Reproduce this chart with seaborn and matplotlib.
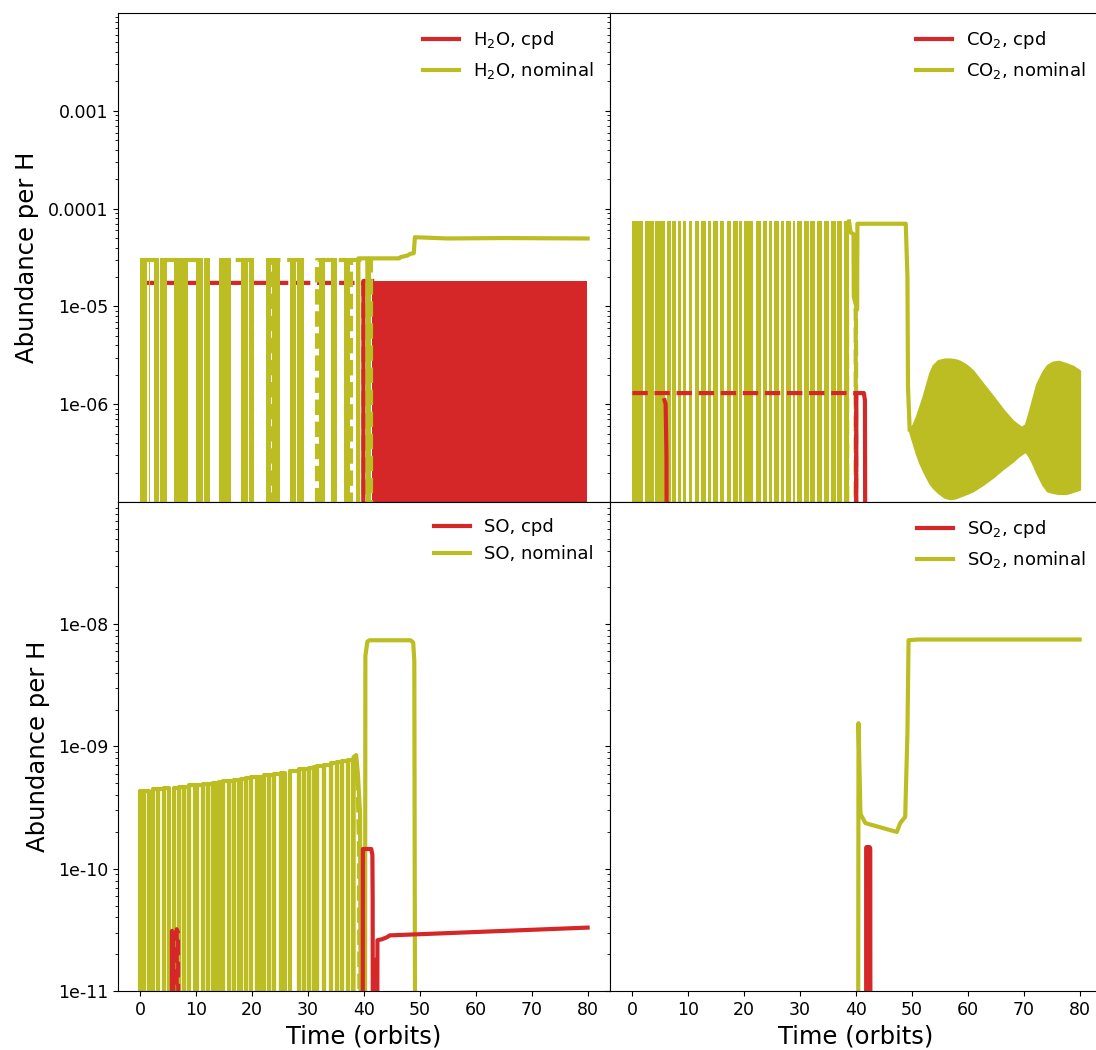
import numpy as np
import matplotlib
matplotlib.use("Agg")
import matplotlib.pyplot as plt
import seaborn as sns
from matplotlib.ticker import FixedLocator, LogLocator, FuncFormatter, NullFormatter
from matplotlib.lines import Line2D

RED = "#d62728"
OLIVE = "#bcbd22"
TOP_FLOOR = 1e-9      # values below the visible range (top row)
BOT_FLOOR = 1e-13     # values below the visible range (bottom row)

# ---------------- H2O ----------------
h2o_band_start = [0.0, 1.5, 2.4, 3.5, 6.1, 7.3, 10.0, 11.3, 14.0, 15.4, 18.0, 19.4, 22.4, 23.5, 26.7, 28.0, 31.9, 34.1, 36.4, 38.5]
h2o_band_end = [1.1, 1.8, 3.4, 4.8, 7.2, 8.6, 11.2, 12.4, 15.3, 16.3, 19.3, 20.4, 23.4, 25.0, 27.9, 29.2, 33.0, 35.2, 37.5, 38.8]
h2o_band_top = 3.1e-5
h2o_nom_t = [38.9, 39.0, 40.6, 40.65, 40.85, 40.9, 46.3, 46.6, 47.7, 48.3, 48.9, 49.1, 55.0, 65.0, 80.0]
h2o_nom_v = [TOP_FLOOR, 3.1e-5, 3.1e-5, TOP_FLOOR, TOP_FLOOR, 3.1e-5, 3.1e-5, 3.2e-5, 3.3e-5, 3.45e-5, 3.5e-5, 5.1e-5, 4.95e-5, 5.0e-5, 4.95e-5]
h2o_nom_dash_t = [0.0, 12.0, 12.0, 15.5, 15.5, 20.0, 20.0, 23.2, 23.2, 28.6, 28.6, 31.6, 31.6, 37.0, 37.0, 37.6, 37.6, 41.2, 41.2]
h2o_nom_dash_v = [3.0e-5, 3.0e-5, TOP_FLOOR, TOP_FLOOR, 3.0e-5, 3.0e-5, TOP_FLOOR, TOP_FLOOR, 3.0e-5, 3.0e-5, TOP_FLOOR, TOP_FLOOR, 3.0e-5, 3.0e-5, TOP_FLOOR, TOP_FLOOR, 3.0e-5, 3.0e-5, TOP_FLOOR]
h2o_cpd_t = [0.0, 39.85, 39.9, 41.45]
h2o_cpd_v = [TOP_FLOOR, TOP_FLOOR, 1.82e-5, 1.82e-5]
h2o_cpd_block_t = [41.4, 79.95]
h2o_cpd_block_hi = [1.84e-5, 1.84e-5]
h2o_cpd_dash_t = [0.0, 39.9, 40.0]
h2o_cpd_dash_v = [1.74e-5, 1.74e-5, TOP_FLOOR]

# ---------------- CO2 ----------------
co2_band_start = [0.0, 2.2, 4.05, 6.15, 7.15, 8.15, 9.05, 10.05, 11.15, 12.35, 13.45, 14.45, 15.65, 16.85, 18.05, 19.15, 19.95, 22.05, 23.35, 24.45, 25.35, 26.55, 27.45, 28.65, 29.45, 30.65, 31.85, 33.05, 34.25, 35.45, 36.65, 37.85]
co2_band_end = [1.95, 3.95, 5.85, 6.85, 7.85, 8.75, 9.65, 10.75, 11.95, 13.15, 14.05, 15.25, 16.45, 17.65, 18.85, 19.65, 21.55, 23.05, 24.15, 25.05, 26.25, 27.15, 28.35, 29.15, 30.35, 31.55, 32.75, 33.95, 35.15, 36.35, 37.55, 38.75]
co2_band_top = 7.4e-5
co2_nom_t = [38.75, 39.05, 39.55, 39.6, 40.2, 40.25, 48.9, 49.2, 49.3, 49.6]
co2_nom_v = [7.4e-5, 5.7e-5, 5.5e-5, 1.25e-5, 9.3e-6, 7.0e-5, 7.0e-5, 2.0e-5, 1.5e-6, 5.5e-7]
co2_env_t = [49.6, 50.2, 50.8, 51.4, 52.0, 52.6, 53.2, 53.8, 54.7, 55.8, 56.8, 57.8, 58.6, 59.8, 60.9, 62.6, 64.5, 66.3, 68.0, 68.9, 69.6, 70.3, 71.0, 71.7, 72.3, 73.4, 74.2, 75.2, 76.3, 77.6, 78.8, 80.0]
co2_env_hi = [5.5e-7, 6.2e-7, 7.5e-7, 9.5e-7, 1.2e-6, 1.6e-6, 2.1e-6, 2.5e-6, 2.8e-6, 2.9e-6, 2.9e-6, 2.85e-6, 2.75e-6, 2.5e-6, 2.2e-6, 1.65e-6, 1.2e-6, 8.8e-7, 6.8e-7, 6.2e-7, 5.8e-7, 6.2e-7, 8.5e-7, 1.2e-6, 1.6e-6, 2.15e-6, 2.5e-6, 2.7e-6, 2.75e-6, 2.6e-6, 2.45e-6, 2.2e-6]
co2_env_lo = [5.2e-7, 4.0e-7, 3.1e-7, 2.5e-7, 2.1e-7, 1.8e-7, 1.55e-7, 1.4e-7, 1.25e-7, 1.12e-7, 1.08e-7, 1.1e-7, 1.15e-7, 1.22e-7, 1.3e-7, 1.5e-7, 1.8e-7, 2.2e-7, 2.6e-7, 2.9e-7, 3.1e-7, 3.3e-7, 2.9e-7, 2.4e-7, 2.0e-7, 1.5e-7, 1.3e-7, 1.25e-7, 1.22e-7, 1.22e-7, 1.28e-7, 1.35e-7]
co2_nom_dash_t = [38.2, 38.4, 38.45, 39.9, 39.95, 40.0, 40.1]
co2_nom_dash_v = [7.4e-5, 1.2e-5, TOP_FLOOR, TOP_FLOOR, 9.5e-6, 9.3e-6, TOP_FLOOR]
co2_cpd_t = [5.75, 5.95, 6.1, 6.2, 40.0, 40.05, 41.4, 41.6, 41.7, 80.0]
co2_cpd_v = [1.1e-6, 1.0e-6, 3e-7, TOP_FLOOR, TOP_FLOOR, 1.3e-6, 1.3e-6, 1.1e-6, TOP_FLOOR, TOP_FLOOR]
co2_cpd_dash_t = [0.0, 40.0, 40.05]
co2_cpd_dash_v = [1.3e-6, 1.3e-6, TOP_FLOOR]

# ---------------- SO ----------------
so_seg_start = [0.0, 0.7, 2.3, 3.15, 4.25, 6.0, 6.95, 7.85, 8.75, 10.2, 11.15, 12.05, 12.95, 14.1, 14.85, 15.85, 16.75, 18.05, 18.85, 19.75, 20.95, 22.15, 23.05, 23.95, 25.15, 26.8, 28.35, 29.25, 30.15, 31.05, 31.65, 32.85, 34.05, 35.25, 36.15, 37.05]
so_seg_end = [0.7, 1.55, 3.15, 4.25, 5.1, 6.95, 7.85, 8.75, 9.7, 11.15, 12.05, 12.95, 13.75, 14.85, 15.85, 16.75, 17.6, 18.85, 19.75, 20.95, 21.6, 23.05, 23.95, 25.15, 25.9, 28.35, 29.25, 30.15, 31.05, 31.65, 32.85, 34.05, 35.25, 36.15, 37.05, 38.0]
so_seg_top = [4.3e-10, 4.3e-10, 4.5e-10, 4.5e-10, 4.6e-10, 4.6e-10, 4.7e-10, 4.7e-10, 4.8e-10, 4.8e-10, 4.9e-10, 4.9e-10, 5.0e-10, 5.1e-10, 5.2e-10, 5.2e-10, 5.3e-10, 5.4e-10, 5.5e-10, 5.6e-10, 5.6e-10, 5.8e-10, 5.9e-10, 6.0e-10, 6.1e-10, 6.3e-10, 6.5e-10, 6.6e-10, 6.7e-10, 6.8e-10, 6.9e-10, 7.1e-10, 7.3e-10, 7.4e-10, 7.6e-10, 7.8e-10]
so_nom_tail_t = [38.1, 38.15, 38.6, 38.9, 39.3, 39.5, 40.15, 40.25, 40.6, 41.0, 48.3, 48.8, 49.0, 49.2, 80.0]
so_nom_tail_v = [BOT_FLOOR, 8.2e-10, 8.5e-10, 6e-10, 2.8e-10, BOT_FLOOR, BOT_FLOOR, 5.5e-9, 7.2e-9, 7.4e-9, 7.4e-9, 7.1e-9, 5e-9, BOT_FLOOR, BOT_FLOOR]
so_nom_dash_t = [38.0, 38.5, 38.9, 39.1, 39.3]
so_nom_dash_v = [8.0e-10, 8.3e-10, 4.5e-10, 1.5e-10, BOT_FLOOR]
so_cpd_t = [5.6, 5.65, 5.9, 5.95, 39.75, 39.8, 41.3, 41.5, 41.55, 41.6, 41.8, 41.9, 42.1, 42.2, 42.35, 42.4, 43.2, 44.1, 44.6, 80.0]
so_cpd_v = [BOT_FLOOR, 3.1e-11, 3.0e-11, BOT_FLOOR, BOT_FLOOR, 1.45e-10, 1.45e-10, 1.3e-10, 5.5e-11, BOT_FLOOR, 1.5e-11, BOT_FLOOR, 1.8e-11, BOT_FLOOR, BOT_FLOOR, 2.6e-11, 2.65e-11, 2.75e-11, 2.85e-11, 3.3e-11]
so_cpd_dash_t = [6.45, 6.5, 6.75, 6.8]
so_cpd_dash_v = [BOT_FLOOR, 3.2e-11, 3.0e-11, BOT_FLOOR]

# ---------------- SO2 ----------------
so2_nom_t = [40.35, 40.45, 40.6, 40.8, 41.7, 47.3, 47.9, 48.8, 49.2, 49.4, 51.0, 80.0]
so2_nom_v = [BOT_FLOOR, 1.55e-9, 7.3e-10, 2.8e-10, 2.36e-10, 2.0e-10, 2.36e-10, 2.66e-10, 1.3e-9, 7.4e-9, 7.5e-9, 7.5e-9]
so2_cpd_t = [41.8, 41.85, 41.95, 42.0, 42.1, 42.15, 42.25, 42.3, 42.4, 42.45, 42.55, 42.6]
so2_cpd_v = [BOT_FLOOR, 1.5e-10, 1.5e-10, BOT_FLOOR, BOT_FLOOR, 1.5e-10, 1.5e-10, BOT_FLOOR, BOT_FLOOR, 1.5e-10, 1.45e-10, BOT_FLOOR]

x_ticks = [0, 10, 20, 30, 40, 50, 60, 70, 80]
top_yticks = [1e-6, 1e-5, 1e-4, 1e-3]
bot_yticks = [1e-11, 1e-10, 1e-9, 1e-8]
species_labels = [["H$_2$O", "CO$_2$"], ["SO", "SO$_2$"]]

LW = 3


def line(ax, t, v, color, ls="-", z=2):
    sns.lineplot(x=np.asarray(t, float), y=np.asarray(v, float), ax=ax, color=color,
                 linewidth=LW, linestyle=ls, estimator=None, sort=False,
                 legend=False, zorder=z)


def bands(ax, starts, ends, top, floor, color, z=2):
    for s, e in zip(starts, ends):
        ax.fill_between([s, e], [floor, floor], [top, top], color=color, lw=0, zorder=z)


def segments_to_line(starts, ends, tops, floor):
    t, v = [], []
    for s, e, h in zip(starts, ends, tops):
        t += [s, s, e, e]
        v += [floor, h, h, floor]
    return t, v


fig, axes = plt.subplots(2, 2, figsize=(10.96, 10.5), dpi=100, sharex=True, sharey="row")
# right column extends slightly past the canvas edge, as in the reference
fig.subplots_adjust(left=118 / 1096, right=1102 / 1096, bottom=0.0562, top=0.9876, wspace=0, hspace=0)

for ax in axes.flat:
    ax.set_yscale("log")

# H2O panel
ax = axes[0, 0]
line(ax, h2o_cpd_dash_t, h2o_cpd_dash_v, RED, "--", z=2)
line(ax, h2o_cpd_t, h2o_cpd_v, RED, "-", z=2)
ax.fill_between(h2o_cpd_block_t, [TOP_FLOOR, TOP_FLOOR], h2o_cpd_block_hi, color=RED, lw=0, zorder=2)
bands(ax, h2o_band_start, h2o_band_end, h2o_band_top, TOP_FLOOR, OLIVE, z=3)
line(ax, h2o_nom_t, h2o_nom_v, OLIVE, "-", z=3)
line(ax, h2o_nom_dash_t, h2o_nom_dash_v, OLIVE, "--", z=3)

# CO2 panel
ax = axes[0, 1]
bands(ax, co2_band_start, co2_band_end, co2_band_top, TOP_FLOOR, OLIVE, z=2)
line(ax, co2_nom_t, co2_nom_v, OLIVE, "-", z=2)
ax.fill_between(co2_env_t, co2_env_lo, co2_env_hi, color=OLIVE, lw=1.5, edgecolor=OLIVE, zorder=2)
line(ax, co2_nom_dash_t, co2_nom_dash_v, OLIVE, "--", z=2)
line(ax, co2_cpd_dash_t, co2_cpd_dash_v, RED, "--", z=3)
line(ax, co2_cpd_t, co2_cpd_v, RED, "-", z=3)

# SO panel
ax = axes[1, 0]
so_t, so_v = segments_to_line(so_seg_start, so_seg_end, so_seg_top, BOT_FLOOR)
line(ax, so_t, so_v, OLIVE, "-", z=2)
line(ax, so_nom_tail_t, so_nom_tail_v, OLIVE, "-", z=2)
line(ax, so_nom_dash_t, so_nom_dash_v, OLIVE, "--", z=2)
line(ax, so_cpd_t, so_cpd_v, RED, "-", z=3)
line(ax, so_cpd_dash_t, so_cpd_dash_v, RED, "--", z=3)

# SO2 panel
ax = axes[1, 1]
line(ax, so2_nom_t, so2_nom_v, OLIVE, "-", z=2)
line(ax, so2_cpd_t, so2_cpd_v, RED, "-", z=3)

fmt = FuncFormatter(lambda val, pos: "%g" % val)
for r in range(2):
    for c in range(2):
        ax = axes[r, c]
        ax.set_xlim(-4, 84)
        ax.xaxis.set_major_locator(FixedLocator(x_ticks))
        if r == 0:
            ax.set_ylim(1e-7, 1e-2)
            ax.yaxis.set_major_locator(FixedLocator(top_yticks))
        else:
            ax.set_ylim(1e-11, 1e-7)
            ax.yaxis.set_major_locator(FixedLocator(bot_yticks))
        ax.yaxis.set_minor_locator(LogLocator(base=10, subs=np.arange(2, 10), numticks=50))
        ax.yaxis.set_major_formatter(fmt)
        ax.yaxis.set_minor_formatter(NullFormatter())
        ax.tick_params(axis="both", which="major", labelsize=12.5)
        if c == 1:
            ax.tick_params(axis="y", labelleft=False)
        if c == 0:
            ax.set_ylabel("Abundance per H", fontsize=17.5, labelpad=6)
        else:
            ax.set_ylabel("")
        if r == 1:
            ax.set_xlabel("Time (orbits)", fontsize=17.5)
        else:
            ax.set_xlabel("")
        name = species_labels[r][c]
        handles = [Line2D([], [], color=RED, lw=LW), Line2D([], [], color=OLIVE, lw=LW)]
        ax.legend(handles, [f"{name}, cpd", f"{name}, nominal"], loc="upper right",
                  frameon=False, fontsize=13)

fig.savefig("out.png", dpi=100)
